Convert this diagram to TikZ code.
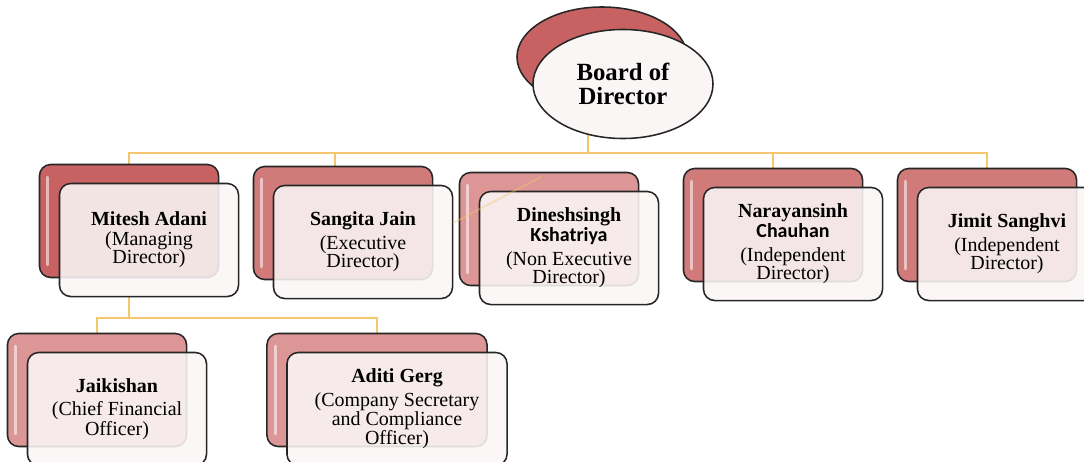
\documentclass[tikz,border=0pt]{standalone}
\usepackage{fontspec}
\setmainfont{Liberation Serif}
\newfontfamily\sansname{Carlito}
\usetikzlibrary{shapes.geometric,backgrounds}
\definecolor{linkgold}{RGB}{245,198,108}
\definecolor{rosedeep}{RGB}{200,98,98}
\definecolor{rosemid}{RGB}{208,122,122}
\definecolor{roselight}{RGB}{220,150,150}
\definecolor{paper}{RGB}{250,246,246}
\definecolor{edge}{RGB}{38,38,38}
\tikzset{
	backbox/.style={draw=edge, line width=1.1pt, rounded corners=8pt, fill=#1,
		minimum width=4.475cm, minimum height=2.825cm,
		path picture={\draw[white, opacity=0.55, line width=2.2pt, line cap=round]
			([xshift=6pt,yshift=-9pt]path picture bounding box.north west) --
			([xshift=6pt,yshift=9pt]path picture bounding box.south west);}},
	backbox/.default=rosemid,
	frontbox/.style={draw=edge, line width=1.1pt, rounded corners=8pt, fill=paper,
		fill opacity=0.88, text opacity=1, minimum width=4.475cm, minimum height=2.825cm,
		align=center, font=\fontsize{14.2}{13}\selectfont, xshift=0.5cm, yshift=-0.475cm},
	link/.style={draw=linkgold, line width=1.3pt},
}
\begin{document}
\begin{tikzpicture}[x=0.025cm, y=-0.025cm]
	\useasboundingbox (0,0) rectangle (1084,461);
	\clip (0,0) rectangle (1084,461);
	\node[ellipse, draw=edge, line width=1.1pt, fill=rosedeep, minimum width=4.25cm, minimum height=2.5cm] (boardback) at (602,57) {};
	\node[ellipse, draw=edge, line width=1.1pt, fill=paper, minimum width=4.5cm, minimum height=2.725cm,
		align=center, font=\fontsize{17.6}{17}\selectfont\bfseries] (board) at (623,84) {Board of\\Director};

	\node[backbox=rosedeep] (miteshback) at (129,221) {};
	\node[frontbox] (mitesh) at (miteshback) {\textbf{Mitesh Adani}\\[1pt](Managing\\Director)};
	\node[backbox] (sangitaback) at (343,223) {};
	\node[frontbox] (sangita) at (sangitaback) {\textbf{Sangita Jain}\\[4pt](Executive\\Director)};
	\node[backbox=roselight] (dineshback) at (549,229) {};
	\node[frontbox] (dinesh) at (dineshback) {\textbf{Dineshsingh}\\{\sansname\bfseries Kshatriya}\\[4pt](Non Executive\\Director)};
	\node[backbox] (narayanback) at (773,225) {};
	\node[frontbox] (narayan) at (narayanback) {\textbf{Narayansinh}\\{\sansname\bfseries Chauhan}\\[4pt](Independent\\Director)};
	\node[backbox] (jimitback) at (987,225) {};
	\node[frontbox] (jimit) at (jimitback) {\textbf{Jimit Sanghvi}\\[4pt](Independent\\Director)};

	\node[backbox=roselight] (jaikishanback) at (97,390) {};
	\node[frontbox] (jaikishan) at (jaikishanback) {\textbf{Jaikishan}\\[4pt](Chief Financial\\Officer)};
	\node[backbox=roselight, minimum width=5.5cm] (aditiback) at (377,390) {};
	\node[frontbox, minimum width=5.5cm] (aditi) at (aditiback) {\textbf{Aditi Gerg}\\[4pt](Company Secretary\\and Compliance\\Officer)};

	\begin{scope}[on background layer]
		\coordinate (bus) at (588,153);
		\coordinate (subbus) at (129,318);
		\draw[link] (bus |- board.center) -- (bus);
		\draw[link] (bus) -| (miteshback.north);
		\draw[link] (bus) -| ([xshift=-0.2cm]sangitaback.north);
		\draw[link] (bus) -| (narayanback.north);
		\draw[link] (bus) -| (jimitback.north);
		\draw[link] (miteshback |- mitesh.south) -- (subbus);
		\draw[link] (subbus) -| (jaikishanback.north);
		\draw[link] (subbus) -| (aditiback.north);
	\end{scope}
	\coordinate (ghostA) at (541,177);
	\coordinate (ghostB) at (453,223);
	\draw[link, opacity=0.4] (ghostA) -- (ghostB);
\end{tikzpicture}
\end{document}
